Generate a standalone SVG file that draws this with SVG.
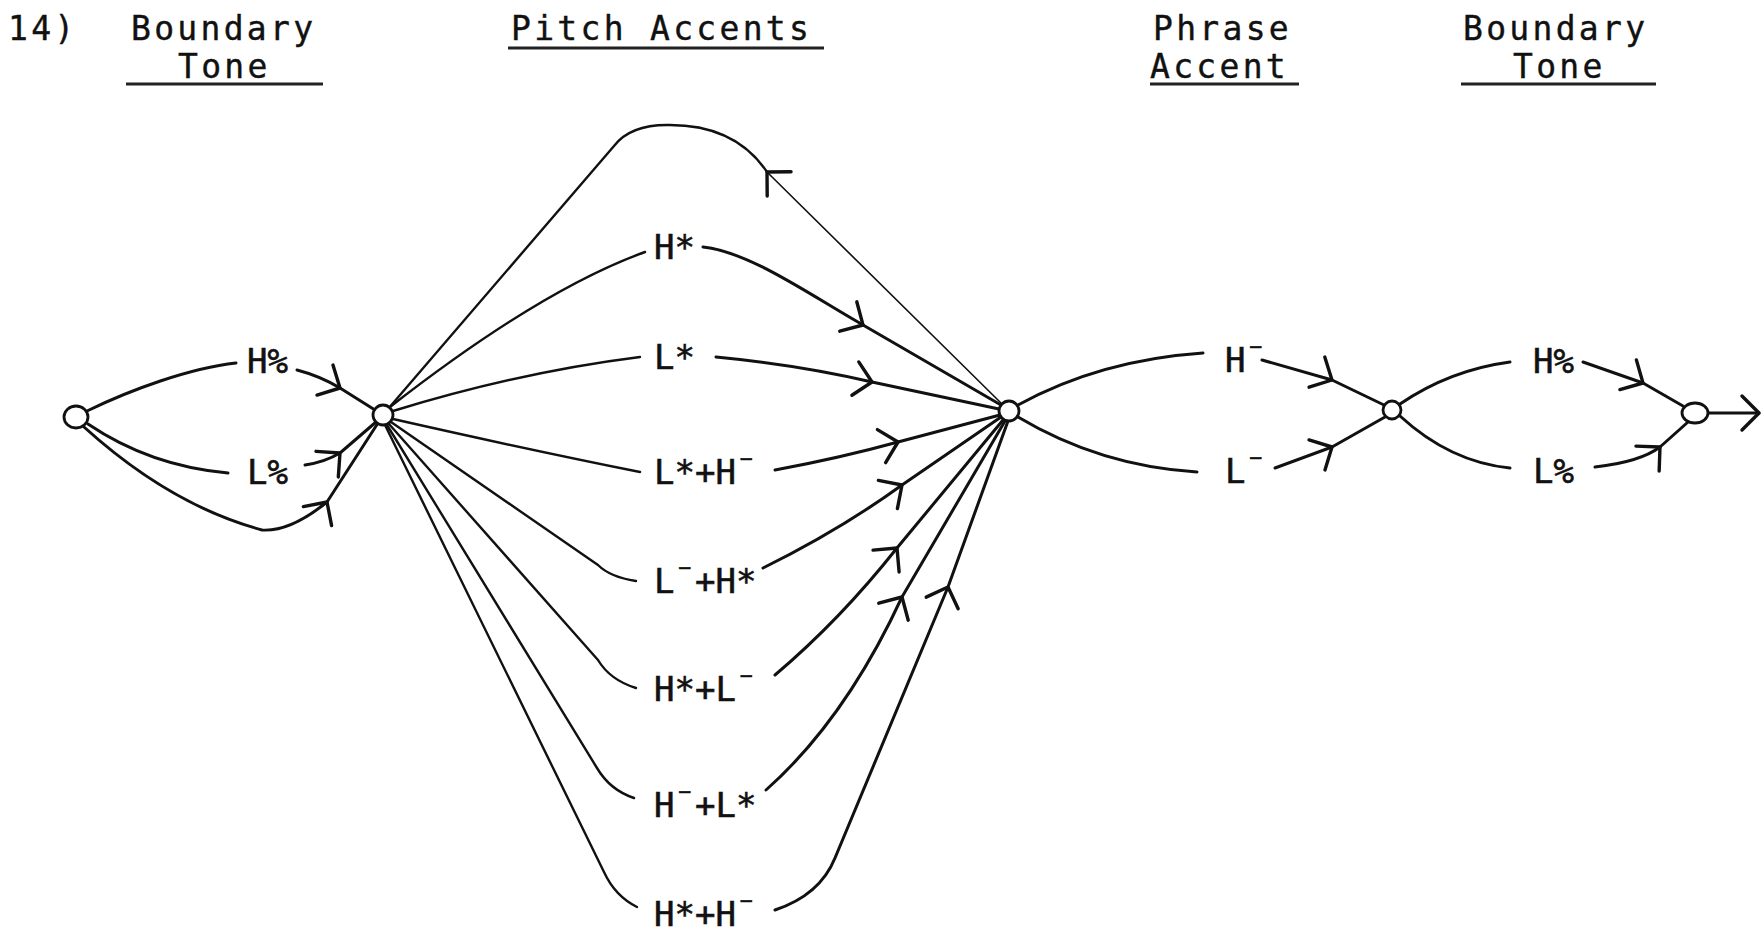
<svg xmlns="http://www.w3.org/2000/svg" width="1762" height="932" viewBox="0 0 1762 932">
<style>
.hd{font-family:"DejaVu Sans Mono","Liberation Mono",monospace;font-size:33px;letter-spacing:3.3px;fill:#111;stroke:#111;stroke-width:0.4}
.lb{font-family:"DejaVu Sans Mono","Liberation Mono",monospace;font-size:34px;fill:#111;stroke:#111;stroke-width:0.6}
.ul{stroke:#222;stroke-width:3}
.e{fill:none;stroke:#111;stroke-width:3;stroke-linecap:round;stroke-linejoin:round}
.f{stroke-width:2.4}
.thin{stroke-width:1.6}
.nd{fill:#fff;stroke:#111;stroke-width:2.8}
</style>
<defs>
<path id="ah" d="M-17,-17 L0,0 L-17,17" fill="none" stroke="#111" stroke-width="3.4" stroke-linecap="round" stroke-linejoin="round"/>
</defs>
<rect width="1762" height="932" fill="#fff"/>
<g id="headers">
<text class="hd" x="8" y="39.5">14)</text>
<text class="hd" x="131" y="39.5">Boundary</text>
<text class="hd" x="178" y="78">Tone</text>
<line class="ul" x1="126" y1="84" x2="323" y2="84"/>
<text class="hd" x="511" y="39.5">Pitch Accents</text>
<line class="ul" x1="508" y1="48" x2="824" y2="48"/>
<text class="hd" x="1153" y="39.5">Phrase</text>
<text class="hd" x="1150" y="78">Accent</text>
<line class="ul" x1="1150" y1="84" x2="1299" y2="84"/>
<text class="hd" x="1463" y="39.5">Boundary</text>
<text class="hd" x="1513" y="78">Tone</text>
<line class="ul" x1="1461" y1="84" x2="1656" y2="84"/>
</g>
<g id="connectors">
<path class="e" d="M87,411 C130,390 190,368 236,363"/>
<path class="e" d="M297,370 Q320,376 340,388 L375,410"/>
<path class="e" d="M88,424 Q150,466 228,473"/>
<path class="e" d="M305,465 Q325,462 340,453 L376,422"/>
<path class="e" d="M84,427 Q170,505 262,530 Q290,532 327,502 L378,423"/>
<path class="e f" d="M388,409 L614,146 Q630,125 667,125 Q735,124 767,172"/>
<path class="e thin" d="M767,172 L1002,404"/>
<path class="e f" d="M390,407 Q540,290 645,252"/>
<path class="e" d="M703,247 C750,252 810,295 863,325 L1001,405"/>
<path class="e f" d="M393,411 Q520,372 640,357"/>
<path class="e" d="M716,357 Q800,365 872,382 L999,409"/>
<path class="e f" d="M393,419 Q530,450 640,472"/>
<path class="e" d="M775,470 Q840,458 898,442 L1000,415"/>
<path class="e f" d="M391,422 L598,565 Q610,577 636,581"/>
<path class="e" d="M763,568 Q840,530 902,485 L1001,417"/>
<path class="e f" d="M389,424 L598,660 Q610,680 636,688"/>
<path class="e" d="M775,675 Q840,620 897,548 L1003,420"/>
<path class="e f" d="M387,425 L597,768 Q610,790 634,798"/>
<path class="e" d="M766,790 Q845,720 902,597 L1005,421"/>
<path class="e f" d="M385,425 L604,872 Q615,896 637,907"/>
<path class="e" d="M775,910 Q820,895 835,858 L948,587 L1008,421"/>
<path class="e" d="M1018,405 Q1100,360 1203,353"/>
<path class="e" d="M1018,417 Q1100,466 1197,472"/>
<path class="e" d="M1262,360 L1332,380 L1384,405"/>
<path class="e" d="M1275,468 L1332,447 L1385,417"/>
<path class="e" d="M1400,404 Q1450,370 1510,362"/>
<path class="e" d="M1400,416 Q1450,462 1510,468"/>
<path class="e" d="M1583,362 L1643,383 L1683,406"/>
<path class="e" d="M1595,467 Q1640,462 1660,447 L1688,422"/>
<path class="e" d="M1707,413 L1759,413"/>
<use href="#ah" transform="translate(340,388) rotate(28)"/>
<use href="#ah" transform="translate(340,453) rotate(-41)"/>
<use href="#ah" transform="translate(327,502) rotate(-56)"/>
<use href="#ah" transform="translate(767,172) rotate(-135.5)"/>
<use href="#ah" transform="translate(863,325) rotate(30)"/>
<use href="#ah" transform="translate(872,382) rotate(11.6)"/>
<use href="#ah" transform="translate(898,442) rotate(-14)"/>
<use href="#ah" transform="translate(902,485) rotate(-34)"/>
<use href="#ah" transform="translate(897,548) rotate(-50)"/>
<use href="#ah" transform="translate(902,597) rotate(-60)"/>
<use href="#ah" transform="translate(948,587) rotate(-70)"/>
<use href="#ah" transform="translate(1332,380) rotate(27.5)"/>
<use href="#ah" transform="translate(1332,447) rotate(-28)"/>
<use href="#ah" transform="translate(1643,383) rotate(29)"/>
<use href="#ah" transform="translate(1660,447) rotate(-43)"/>
<use href="#ah" transform="translate(1759,413)"/>
</g>
<g id="n0"><ellipse class="nd" cx="76" cy="417" rx="12" ry="11"/></g>
<g id="n1"><circle class="nd" cx="383" cy="415" r="10"/></g>
<g id="n2"><circle class="nd" cx="1009" cy="411" r="10"/></g>
<g id="n3"><circle class="nd" cx="1392" cy="410" r="9"/></g>
<g id="n4"><ellipse class="nd" cx="1695" cy="413" rx="13" ry="10"/></g>
<g id="lbl-bt1-H"><text class="lb" x="247" y="373">H%</text></g>
<g id="lbl-bt1-L"><text class="lb" x="247" y="484">L%</text></g>
<g id="lbl-Hs"><text class="lb" x="654" y="259">H*</text></g>
<g id="lbl-Ls"><text class="lb" x="654" y="369">L*</text></g>
<g id="lbl-LsH"><text class="lb" x="654" y="484">L*+H<tspan dy="-8">⁻</tspan></text></g>
<g id="lbl-LHs"><text class="lb" x="654" y="593">L<tspan dy="-8">⁻</tspan><tspan dy="8">+H*</tspan></text></g>
<g id="lbl-HsL"><text class="lb" x="654" y="701">H*+L<tspan dy="-8">⁻</tspan></text></g>
<g id="lbl-HLs"><text class="lb" x="654" y="817">H<tspan dy="-8">⁻</tspan><tspan dy="8">+L*</tspan></text></g>
<g id="lbl-HsH"><text class="lb" x="654" y="926">H*+H<tspan dy="-8">⁻</tspan></text></g>
<g id="lbl-pa-H"><text class="lb" x="1225" y="372">H<tspan dy="-8">⁻</tspan></text></g>
<g id="lbl-pa-L"><text class="lb" x="1225" y="483">L<tspan dy="-8">⁻</tspan></text></g>
<g id="lbl-bt2-H"><text class="lb" x="1533" y="373">H%</text></g>
<g id="lbl-bt2-L"><text class="lb" x="1533" y="483">L%</text></g>
</svg>
